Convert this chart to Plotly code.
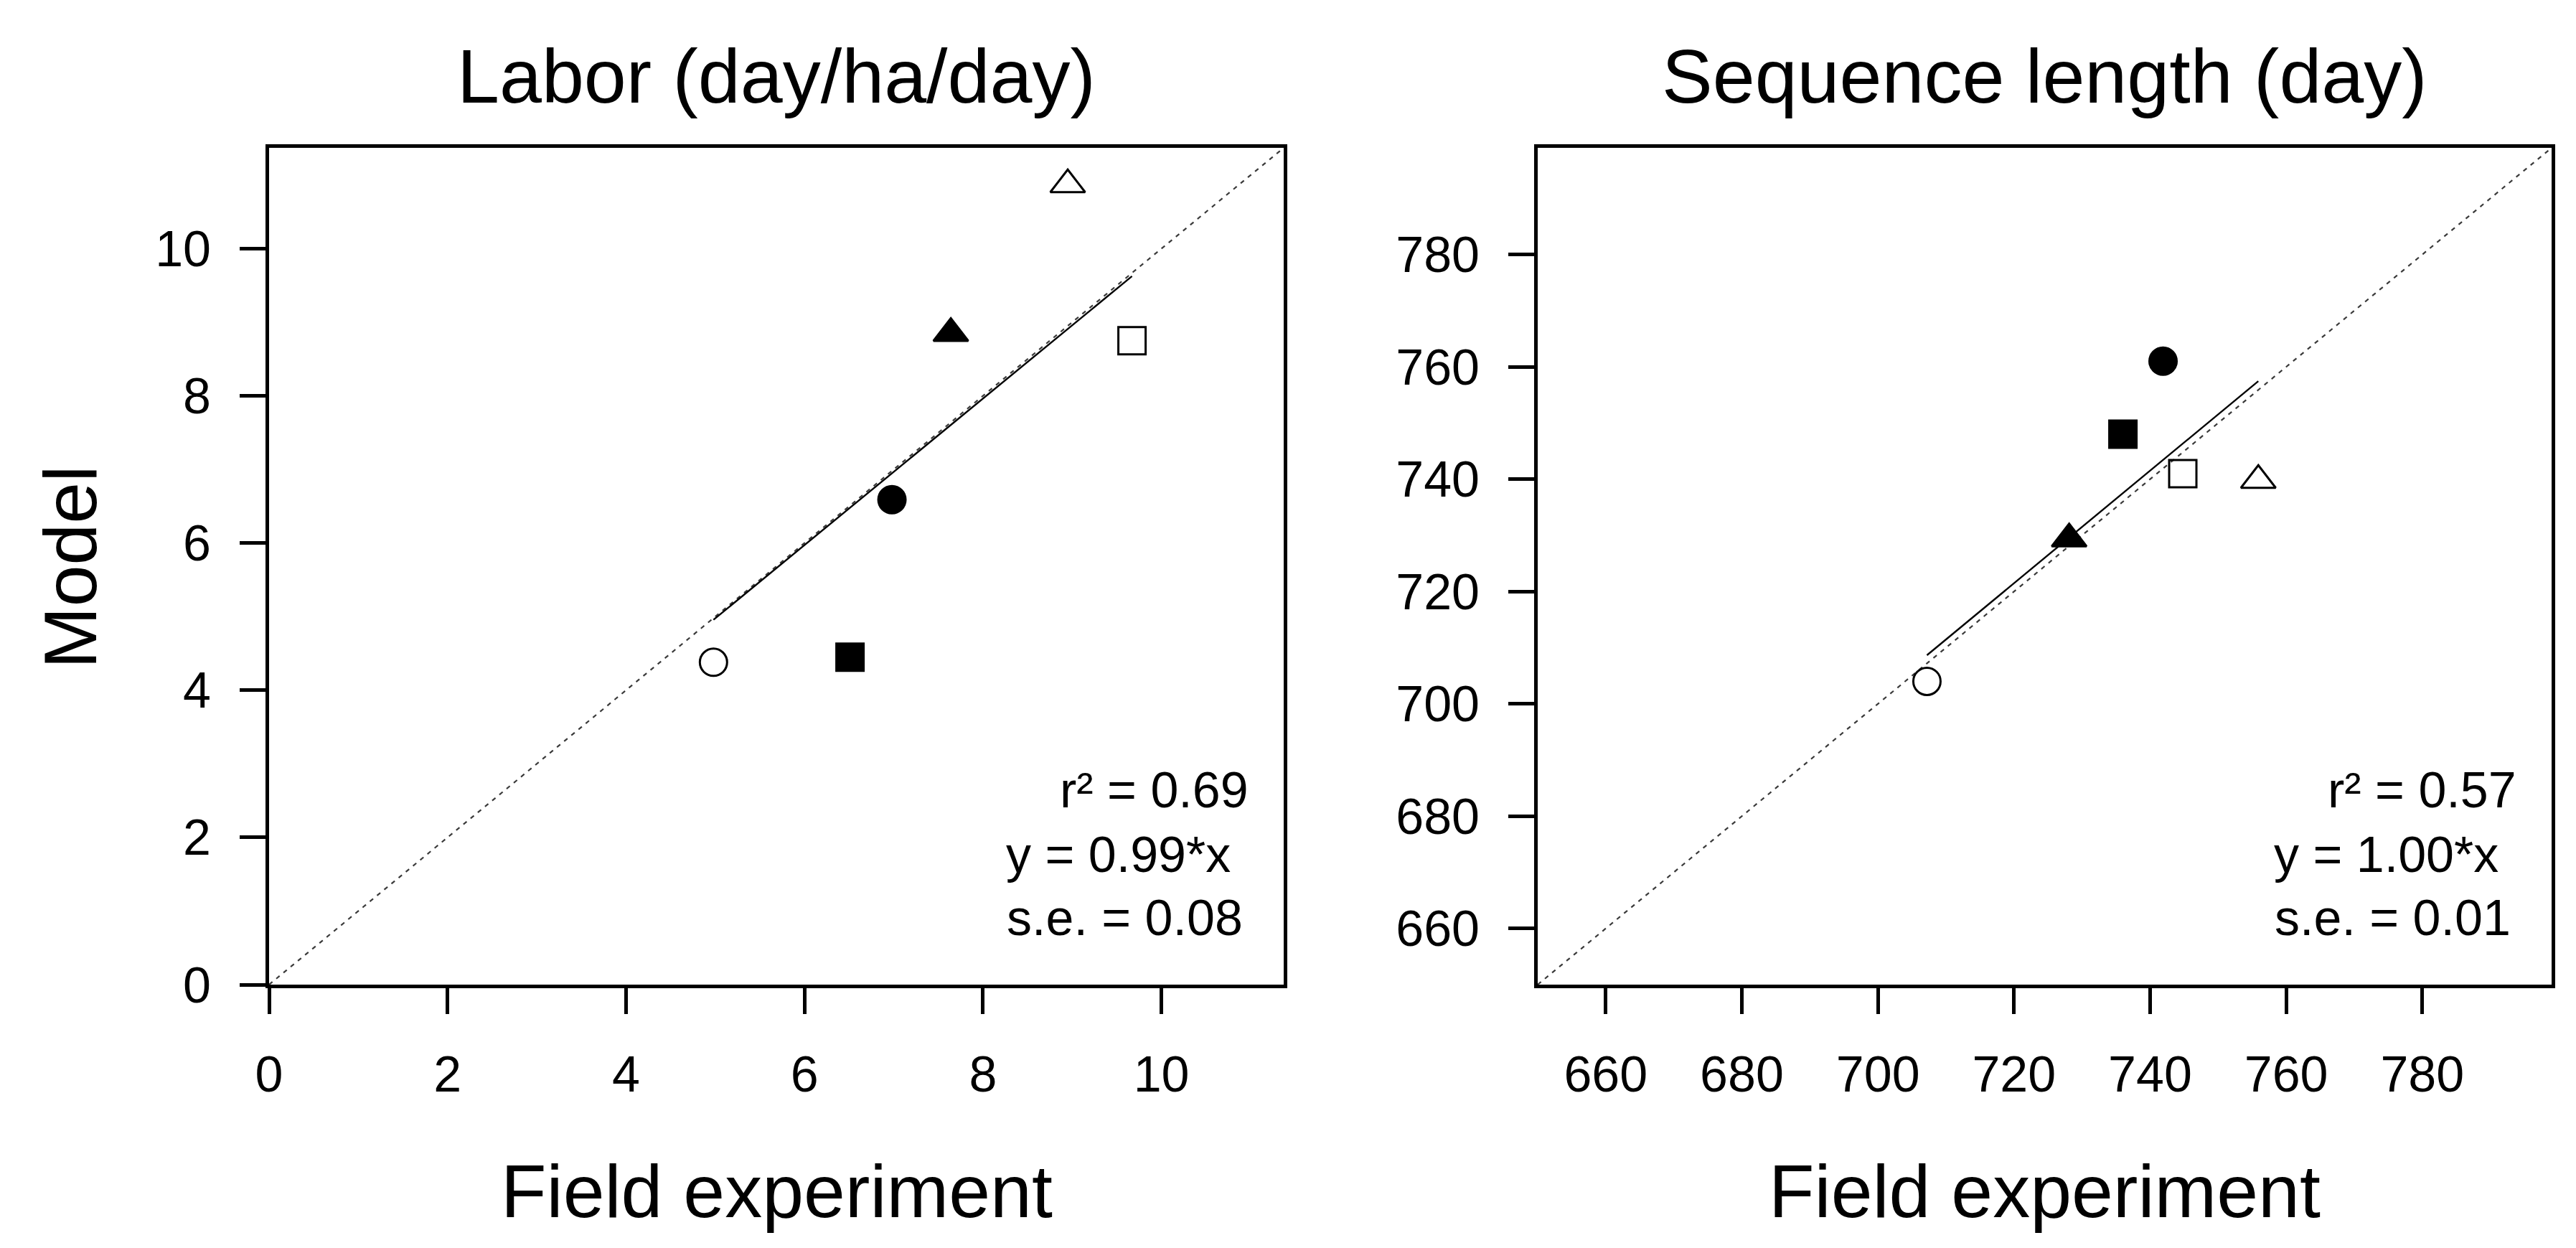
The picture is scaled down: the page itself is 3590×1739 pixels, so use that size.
import numpy as np
import plotly.graph_objects as go
from plotly.subplots import make_subplots

# marker order: filled circle, filled square, filled triangle, open circle, open square, open triangle
symbols = ["circle", "square", "triangle-up", "circle-open", "square-open", "triangle-up-open"]

labor_field = [6.98, 6.51, 7.64, 4.98, 9.67, 8.95]
labor_model = [6.59, 4.45, 8.85, 4.38, 8.75, 10.87]

seq_field = [741.9, 736.0, 728.1, 707.2, 744.8, 755.9]
seq_model = [761.0, 748.0, 729.4, 704.0, 741.0, 739.8]

titles = ["Labor (day/ha/day)", "Sequence length (day)"]
stats_labor = ["r² = 0.69", "y = 0.99*x", "s.e. = 0.08"]
stats_seq = ["r² = 0.57", "y = 1.00*x", "s.e. = 0.01"]

labor_range = [0, 11.37]
seq_range = [650, 799]
labor_ticks = [0, 2, 4, 6, 8, 10]
seq_ticks = [660, 680, 700, 720, 740, 760, 780]

FONT = "Arial, Liberation Sans, sans-serif"
W, H = 3590, 1739

fig = make_subplots(rows=1, cols=2)

panels = [
    (1, labor_field, labor_model, labor_range),
    (2, seq_field, seq_model, seq_range),
]

for col, fx, my, rng in panels:
    fx = np.array(fx)
    my = np.array(my)
    # 1:1 line across the whole frame
    fig.add_trace(go.Scatter(x=rng, y=rng, mode="lines",
                             line=dict(color="#3a3a3a", width=2.2, dash="6px,7px"),
                             showlegend=False, hoverinfo="skip"), row=1, col=col)
    # regression through origin
    slope = (fx * my).sum() / (fx * fx).sum()
    xs = np.array([fx.min(), fx.max()])
    fig.add_trace(go.Scatter(x=xs, y=slope * xs, mode="lines",
                             line=dict(color="black", width=2.4),
                             showlegend=False, hoverinfo="skip"), row=1, col=col)
    for i, sym in enumerate(symbols):
        size = 42 if "triangle" in sym else 38
        fig.add_trace(go.Scatter(x=[fx[i]], y=[my[i]], mode="markers",
                                 marker=dict(symbol=sym, size=size, color="black",
                                             line=dict(color="black", width=3)),
                                 showlegend=False), row=1, col=col)

axis_style = dict(showline=True, linecolor="black", linewidth=5, mirror=True,
                  ticks="outside", ticklen=36, tickwidth=5, tickcolor="black",
                  showgrid=False, zeroline=False, automargin=False,
                  tickfont=dict(family=FONT, size=70, color="black"))

dom_x = [[367 / W, 1781 / W], [2135 / W, 3548 / W]]
dom_y = [1 - 1364 / H, 1 - 198 / H]

fig.update_xaxes(**axis_style, ticklabelstandoff=24)
fig.update_yaxes(**axis_style, ticklabelstandoff=26)

fig.update_layout(
    xaxis=dict(domain=dom_x[0], range=labor_range, tickvals=labor_ticks),
    yaxis=dict(domain=dom_y, range=labor_range, tickvals=labor_ticks),
    xaxis2=dict(domain=dom_x[1], range=seq_range, tickvals=seq_ticks),
    yaxis2=dict(domain=dom_y, range=seq_range, tickvals=seq_ticks),
)

annotations = []
for k, (ttl, stats) in enumerate(zip(titles, [stats_labor, stats_seq])):
    cx = (dom_x[k][0] + dom_x[k][1]) / 2
    annotations.append(dict(text=ttl, x=cx, y=1 - 98 / H, xref="paper", yref="paper",
                            showarrow=False, xanchor="center", yanchor="middle",
                            font=dict(family=FONT, size=106, color="black")))
    annotations.append(dict(text="Field experiment", x=cx, y=1 - 1652 / H,
                            xref="paper", yref="paper", showarrow=False,
                            xanchor="center", yanchor="middle",
                            font=dict(family=FONT, size=104, color="black")))
    xr = "x domain" if k == 0 else "x2 domain"
    yr = "y domain" if k == 0 else "y2 domain"
    for txt, sx, sy in zip(stats, [0.872, 0.837, 0.843], [0.232, 0.155, 0.080]):
        annotations.append(dict(text=txt, x=sx, y=sy, xref=xr, yref=yr,
                                showarrow=False, xanchor="center", yanchor="middle",
                                font=dict(family=FONT, size=70, color="black")))

annotations.append(dict(text="Model", x=90 / W, y=1 - 783 / H, xref="paper", yref="paper",
                        showarrow=False, textangle=-90, xanchor="center", yanchor="middle",
                        font=dict(family=FONT, size=104, color="black")))

fig.update_layout(
    width=W, height=H,
    margin=dict(l=0, r=0, t=0, b=0),
    paper_bgcolor="white", plot_bgcolor="white",
    annotations=annotations,
    showlegend=False,
)

fig.write_html("out.html")
